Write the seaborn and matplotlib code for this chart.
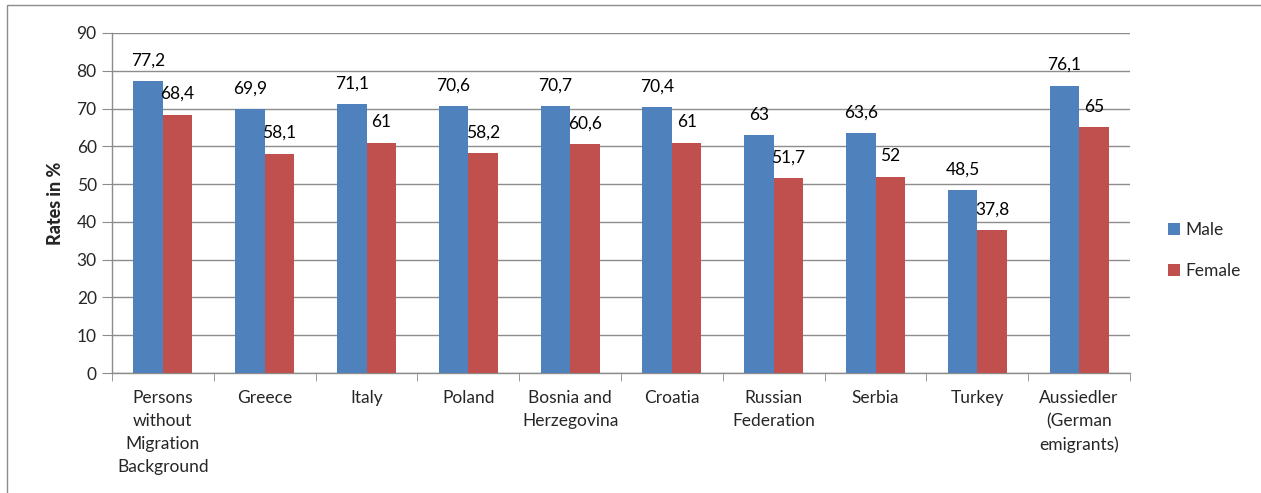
import numpy as np
import pandas as pd
import matplotlib.pyplot as plt
import seaborn as sns
from matplotlib.patches import Rectangle

countries = ["Persons\nwithout\nMigration\nBackground", "Greece", "Italy", "Poland",
             "Bosnia and\nHerzegovina", "Croatia", "Russian\nFederation", "Serbia",
             "Turkey", "Aussiedler\n(German\nemigrants)"]
male = [77.2, 69.9, 71.1, 70.6, 70.7, 70.4, 63.0, 63.6, 48.5, 76.1]
female = [68.4, 58.1, 61.0, 58.2, 60.6, 61.0, 51.7, 52.0, 37.8, 65.0]
y_ticks = [0, 10, 20, 30, 40, 50, 60, 70, 80, 90]

df = pd.DataFrame({"country": countries * 2,
                   "rate": male + female,
                   "sex": ["Male"] * len(male) + ["Female"] * len(female)})

sns.set_style("white")
plt.rcParams['font.family'] = ['Lato', 'DejaVu Sans']

fig = plt.figure(figsize=(12.61, 4.93), dpi=100)
ax = fig.add_axes([112 / 1261, 1 - 373 / 493, (1130 - 112) / 1261, (373 - 33) / 493])

sns.barplot(data=df, x="country", y="rate", hue="sex", order=countries,
            palette={"Male": "#4F81BD", "Female": "#C0504D"}, width=0.58,
            edgecolor="none", saturation=1, ax=ax, zorder=3)

for cont in ax.containers:
    labels = [f"{v:g}".replace(".", ",") for v in cont.datavalues]
    ax.bar_label(cont, labels=labels, padding=9, fontsize=12.5, color="black")

ax.set_ylim(0, 90)
ax.set_xlim(-0.5, len(countries) - 0.5)
ax.set_yticks(y_ticks)
ax.yaxis.grid(True, color="#8c8c8c", linewidth=1, zorder=0)
ax.set_axisbelow(True)
for s in ["top", "right"]:
    ax.spines[s].set_visible(False)
for s in ["left", "bottom"]:
    ax.spines[s].set_color("#8c8c8c")
    ax.spines[s].set_linewidth(1)

ax.set_xlabel("")
ax.set_ylabel("Rates in %", fontsize=13, fontweight="black", labelpad=9)
ax.tick_params(axis="y", labelsize=12.5, length=7, color="#8c8c8c", left=True, pad=4)
ax.tick_params(axis="x", labelsize=12.5, length=0, pad=12)
for lab in ax.get_xticklabels():
    lab.set_linespacing(1.55)
ax.set_xticks(np.arange(-0.5, len(countries), 1), minor=True)
ax.tick_params(axis="x", which="minor", length=6, color="#8c8c8c", bottom=True)

ax.legend(loc="center left", bbox_to_anchor=(1.022, 0.36), frameon=False,
          fontsize=12.5, handlelength=0.7, handleheight=0.7, handletextpad=0.3,
          labelspacing=1.4)

fig.patches.append(Rectangle((7 / 1261, -0.1), 1.1, 1 - 5 / 493 + 0.1,
                             transform=fig.transFigure, fill=False,
                             edgecolor="#8c8c8c", linewidth=1))

fig.savefig("out.png", dpi=100)
